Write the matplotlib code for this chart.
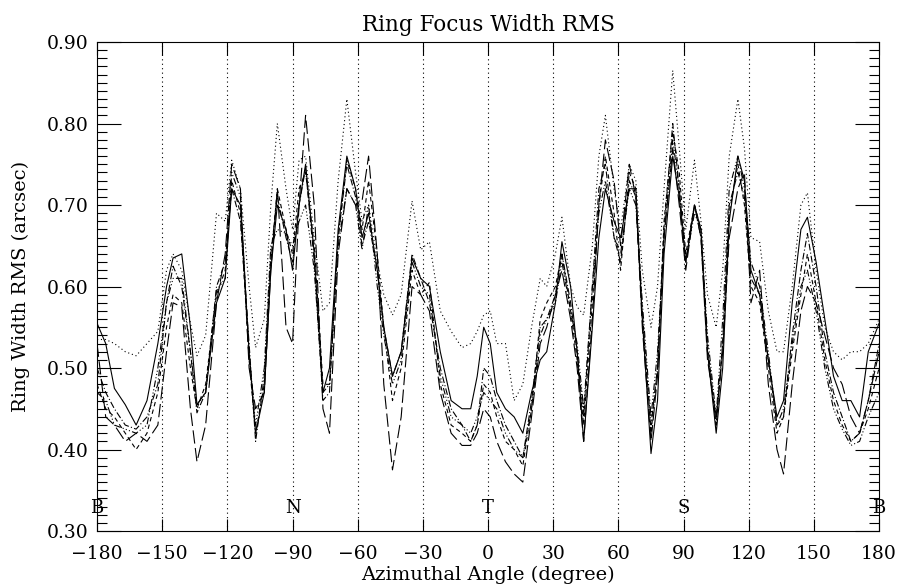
import numpy as np
import matplotlib
matplotlib.use("Agg")
from matplotlib import pyplot as plt
from matplotlib.ticker import MultipleLocator

plt.rcParams['font.family'] = ['DejaVu Serif']

# azimuth sample angles (degree), shared by all curves
angle = [-180, -176, -172, -167, -162, -157, -152, -148, -145, -141, -137, -134, -130, -125,
         -121, -118, -114, -110, -107, -103, -100, -97, -93, -90, -87, -84, -80, -76, -73,
         -69, -65, -61, -58, -55, -51, -48, -44, -40, -35, -31, -27, -22, -17, -12, -8, -5,
         -2, 1, 4, 8, 12, 16, 20, 24, 27, 31, 34, 38, 41, 44, 48, 51, 54, 58, 61, 65, 68,
         71, 75, 78, 81, 85, 88, 91, 95, 98, 101, 105, 108, 111, 115, 118, 121, 125, 129,
         133, 136, 140, 144, 147, 151, 155, 159, 163, 167, 171, 175, 180]

# ring width rms (arcsec), one list per curve
solid = [0.555, 0.53, 0.475, 0.455, 0.43, 0.46, 0.53, 0.60, 0.635, 0.64, 0.55, 0.455, 0.47, 0.58,
         0.61, 0.72, 0.70, 0.52, 0.42, 0.47, 0.62, 0.70, 0.67, 0.62, 0.70, 0.75, 0.64, 0.47, 0.50,
         0.67, 0.76, 0.72, 0.66, 0.69, 0.62, 0.55, 0.49, 0.52, 0.635, 0.61, 0.60, 0.52, 0.46, 0.45,
         0.45, 0.49, 0.55, 0.53, 0.47, 0.45, 0.44, 0.42, 0.47, 0.51, 0.52, 0.58, 0.655, 0.60, 0.52,
         0.41, 0.55, 0.66, 0.72, 0.68, 0.66, 0.72, 0.72, 0.56, 0.395, 0.46, 0.64, 0.76, 0.71, 0.63,
         0.70, 0.67, 0.52, 0.42, 0.50, 0.68, 0.76, 0.73, 0.62, 0.59, 0.51, 0.44, 0.46, 0.58, 0.67,
         0.685, 0.63, 0.56, 0.49, 0.46, 0.46, 0.44, 0.52, 0.555]
dotted = [0.535, 0.535, 0.53, 0.52, 0.515, 0.53, 0.545, 0.62, 0.64, 0.62, 0.555, 0.515, 0.54, 0.69,
          0.68, 0.755, 0.72, 0.60, 0.525, 0.56, 0.70, 0.80, 0.72, 0.67, 0.755, 0.76, 0.66, 0.57, 0.58,
          0.73, 0.83, 0.74, 0.68, 0.70, 0.63, 0.59, 0.565, 0.59, 0.705, 0.645, 0.655, 0.57, 0.545, 0.525,
          0.53, 0.545, 0.565, 0.57, 0.53, 0.53, 0.46, 0.48, 0.55, 0.61, 0.60, 0.64, 0.685, 0.60, 0.575,
          0.565, 0.65, 0.76, 0.81, 0.72, 0.67, 0.75, 0.73, 0.62, 0.55, 0.60, 0.72, 0.865, 0.77, 0.67,
          0.755, 0.68, 0.59, 0.55, 0.62, 0.76, 0.83, 0.77, 0.66, 0.655, 0.57, 0.52, 0.52, 0.60, 0.70,
          0.715, 0.62, 0.55, 0.52, 0.51, 0.52, 0.52, 0.53, 0.56]
dashed = [0.48, 0.45, 0.44, 0.42, 0.40, 0.42, 0.47, 0.55, 0.59, 0.58, 0.50, 0.45, 0.48, 0.59,
          0.62, 0.73, 0.69, 0.51, 0.42, 0.48, 0.63, 0.72, 0.67, 0.64, 0.72, 0.74, 0.65, 0.48, 0.48,
          0.66, 0.755, 0.72, 0.67, 0.73, 0.64, 0.55, 0.46, 0.50, 0.62, 0.59, 0.605, 0.48, 0.43, 0.42,
          0.41, 0.43, 0.48, 0.47, 0.44, 0.41, 0.40, 0.38, 0.45, 0.56, 0.58, 0.60, 0.64, 0.57, 0.51,
          0.43, 0.58, 0.70, 0.76, 0.69, 0.62, 0.74, 0.72, 0.57, 0.42, 0.50, 0.68, 0.79, 0.74, 0.64,
          0.70, 0.67, 0.53, 0.43, 0.53, 0.69, 0.75, 0.70, 0.60, 0.58, 0.50, 0.42, 0.44, 0.52, 0.59,
          0.64, 0.58, 0.51, 0.46, 0.43, 0.41, 0.42, 0.45, 0.50]
dashdot = [0.50, 0.47, 0.45, 0.43, 0.425, 0.44, 0.48, 0.58, 0.625, 0.60, 0.52, 0.445, 0.47, 0.60,
           0.63, 0.72, 0.68, 0.53, 0.41, 0.49, 0.64, 0.71, 0.66, 0.63, 0.70, 0.745, 0.63, 0.46, 0.47,
           0.66, 0.75, 0.71, 0.65, 0.68, 0.62, 0.55, 0.49, 0.52, 0.64, 0.61, 0.58, 0.50, 0.45, 0.43,
           0.41, 0.43, 0.50, 0.49, 0.46, 0.43, 0.41, 0.39, 0.46, 0.55, 0.56, 0.59, 0.64, 0.58, 0.52,
           0.44, 0.60, 0.72, 0.75, 0.66, 0.63, 0.73, 0.71, 0.56, 0.43, 0.50, 0.67, 0.80, 0.72, 0.63,
           0.70, 0.66, 0.52, 0.43, 0.53, 0.70, 0.74, 0.71, 0.61, 0.59, 0.51, 0.43, 0.44, 0.54, 0.62,
           0.665, 0.60, 0.52, 0.47, 0.44, 0.41, 0.42, 0.46, 0.53]
dashdot3 = [0.47, 0.46, 0.43, 0.425, 0.42, 0.43, 0.50, 0.58, 0.61, 0.61, 0.52, 0.455, 0.47, 0.595,
            0.61, 0.74, 0.71, 0.52, 0.43, 0.50, 0.65, 0.67, 0.665, 0.65, 0.68, 0.70, 0.62, 0.47, 0.48,
            0.65, 0.72, 0.70, 0.645, 0.70, 0.60, 0.54, 0.48, 0.51, 0.63, 0.60, 0.59, 0.49, 0.44, 0.43,
            0.42, 0.44, 0.47, 0.46, 0.45, 0.42, 0.40, 0.39, 0.45, 0.54, 0.56, 0.58, 0.63, 0.57, 0.53,
            0.45, 0.60, 0.69, 0.73, 0.66, 0.64, 0.72, 0.70, 0.58, 0.44, 0.52, 0.66, 0.78, 0.72, 0.63,
            0.69, 0.67, 0.54, 0.44, 0.56, 0.72, 0.76, 0.72, 0.63, 0.60, 0.52, 0.43, 0.45, 0.53, 0.60,
            0.62, 0.57, 0.50, 0.45, 0.425, 0.405, 0.41, 0.44, 0.47]
longdash = [0.53, 0.44, 0.43, 0.41, 0.42, 0.41, 0.43, 0.52, 0.58, 0.575, 0.45, 0.385, 0.43, 0.58,
            0.64, 0.75, 0.72, 0.50, 0.45, 0.47, 0.62, 0.72, 0.55, 0.53, 0.70, 0.81, 0.70, 0.45, 0.42,
            0.64, 0.72, 0.70, 0.705, 0.76, 0.64, 0.48, 0.375, 0.44, 0.60, 0.59, 0.57, 0.47, 0.42, 0.405,
            0.405, 0.42, 0.45, 0.44, 0.41, 0.385, 0.37, 0.36, 0.44, 0.53, 0.55, 0.59, 0.62, 0.56, 0.50,
            0.41, 0.56, 0.70, 0.78, 0.73, 0.65, 0.75, 0.71, 0.55, 0.41, 0.49, 0.66, 0.77, 0.70, 0.62,
            0.70, 0.66, 0.51, 0.44, 0.52, 0.66, 0.72, 0.74, 0.58, 0.62, 0.48, 0.40, 0.37, 0.48, 0.57,
            0.60, 0.58, 0.54, 0.50, 0.48, 0.44, 0.42, 0.46, 0.52]

grid_angles = [-150, -120, -90, -60, -30, 0, 30, 60, 90, 120, 150]
mark_angles = [-180, -90, 0, 90, 180]
mark_text = ['B', 'N', 'T', 'S', 'B']

fig = plt.figure(figsize=(9, 5.87), dpi=100)
ax = fig.add_axes([0.1078, 0.0954, 0.869, 0.833])

lw = 0.8
ax.plot(angle, solid, color='k', lw=lw, ls='-')
ax.plot(angle, dotted, color='k', lw=lw, ls=(0, (1, 2.5)))
ax.plot(angle, dashed, color='k', lw=lw, ls=(0, (4, 3)))
ax.plot(angle, dashdot, color='k', lw=lw, ls=(0, (6, 2, 1, 2)))
ax.plot(angle, dashdot3, color='k', lw=lw, ls=(0, (6, 2, 1, 2, 1, 2, 1, 2)))
ax.plot(angle, longdash, color='k', lw=lw, ls=(0, (12, 4)))

for a in grid_angles:
    ax.axvline(a, color='k', lw=0.8, ls=(0, (1, 3)))

for a, t in zip(mark_angles, mark_text):
    ax.text(a, 0.328, t, ha='center', va='center', fontsize=13)

ax.set_xlim(-180, 180)
ax.set_ylim(0.30, 0.90)
ax.xaxis.set_major_locator(MultipleLocator(30))
ax.yaxis.set_major_locator(MultipleLocator(0.1))
ax.yaxis.set_minor_locator(MultipleLocator(0.01))
ax.set_yticklabels([f'{v:.2f}' for v in ax.get_yticks()])
ax.tick_params(which='both', direction='in', top=True, right=True, labelsize=13.5)
ax.tick_params(axis='y', which='major', length=17, width=0.8, pad=6)
ax.tick_params(axis='y', which='minor', length=7, width=0.8)
ax.tick_params(axis='x', which='major', length=9, width=0.8, pad=10)
for s in ax.spines.values():
    s.set_linewidth(0.8)

ax.set_title('Ring Focus Width RMS', fontsize=15.5, pad=8)
ax.set_xlabel('Azimuthal Angle (degree)', fontsize=14, labelpad=2)
ax.set_ylabel('Ring Width RMS (arcsec)', fontsize=14, labelpad=12)

fig.savefig('out.png', dpi=100)
